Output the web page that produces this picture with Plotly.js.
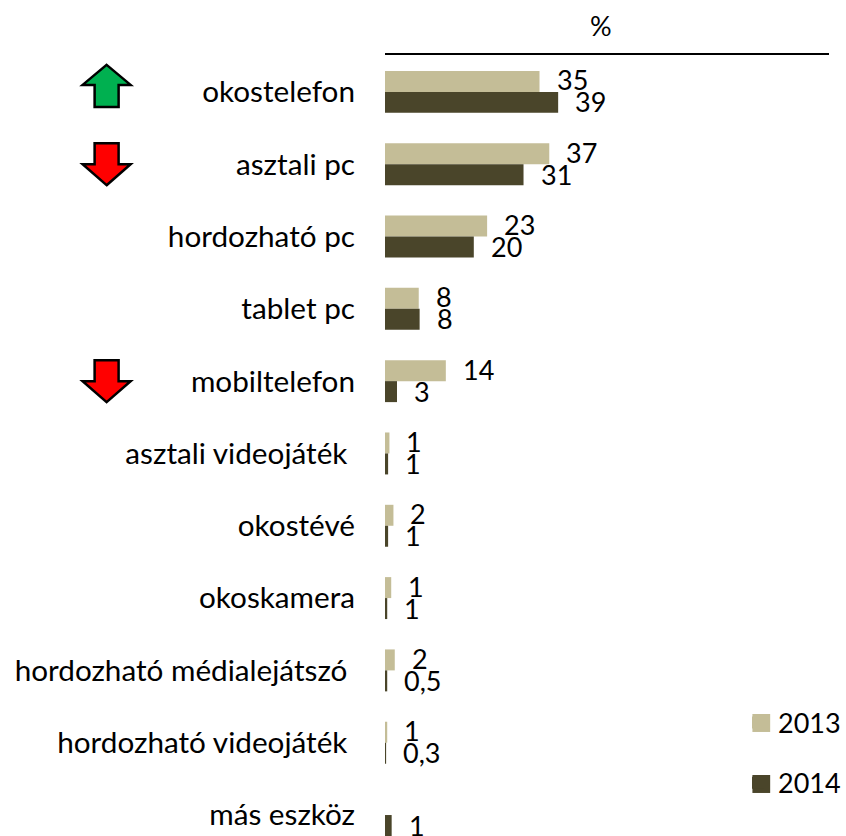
<!DOCTYPE html>
<html>
<head>
<meta charset="utf-8">
<script src="https://cdn.plot.ly/plotly-3.0.1.min.js"></script>
<style>html,body{margin:0;padding:0;background:#fff;overflow:hidden}</style>
</head>
<body>
<div id="chart" style="width:846px;height:836px"></div>
<script>
var categories = ["okostelefon","asztali pc","hordozható pc","tablet pc","mobiltelefon","asztali videojáték\u00a0","okostévé","okoskamera","hordozható médialejátszó\u00a0","hordozható videojáték\u00a0","más eszköz"];
var values2013 = [34.8,37,23,7.6,13.7,1,1.9,1.4,2.2,0.5,null];
var values2014 = [39,31.2,20,7.8,2.7,0.7,0.7,0.5,0.5,0.25,1.5];
var labels2013 = ["35","37","23","8","14","1","2","1","2","1",""];
var labels2014 = ["39","31","20","8","3","1","1","1","0,5","0,3","1"];
var arrowsUp = ["okostelefon"];
var arrowsDown = ["asztali pc","mobiltelefon"];
var COLOR_2013 = "#C4BD97";
var COLOR_2014 = "#4A452A";

var FONT = "Lato, Carlito, Calibri, sans-serif";
var TICK_SIZE = 29.7;
var LABEL_SIZE = 27;
var annotations = [];
function addLabels(vals, labels, shift) {
  labels.forEach(function (t, i) {
    if (!t) return;
    annotations.push({xref:"x", yref:"y", x:vals[i], y:categories[i], text:t, showarrow:false,
      xanchor:"left", yanchor:"middle", xshift:16, yshift:shift, borderpad:0,
      font:{family:FONT,size:LABEL_SIZE,color:"#000"}});
  });
}
addLabels(values2013, labels2013, 12);
addLabels(values2014, labels2014, -10);
annotations.push({xref:"paper", yref:"paper", x:0.487, y:1, yshift:30, text:"%", showarrow:false,
  xanchor:"center", yanchor:"middle", font:{family:FONT,size:LABEL_SIZE,color:"#000"}});

var upPath = "M0,27 L24,7 L12,7 L12,-15 L-12,-15 L-12,7 L-24,7 Z";
var downPath = "M0,-21 L24,0 L12,0 L12,21 L-12,21 L-12,0 L-24,0 Z";
function arrow(cat, path, colour) {
  return {type:"path", xref:"paper", yref:"y", xsizemode:"pixel", ysizemode:"pixel",
    xanchor:-0.627, yanchor:cat, path:path, fillcolor:colour,
    line:{color:"#000",width:2.5}};
}
function swatch(x0, x1, y0, y1, colour) {
  return {type:"rect", xref:"paper", yref:"paper", x0:x0, x1:x1, y0:y0, y1:y1, fillcolor:colour, line:{width:0}};
}
var shapes = arrowsUp.map(function (c) { return arrow(c, upPath, "#00B050"); })
  .concat(arrowsDown.map(function (c) { return arrow(c, downPath, "#FF0000"); }))
  .concat([swatch(0.8275,0.8675,0.1332,0.1562,COLOR_2013), swatch(0.8275,0.8675,0.0551,0.0781,COLOR_2014)]);

var traces = [
  {type:"bar", orientation:"h", name:"2013", y:categories, x:values2013, marker:{color:COLOR_2013}, hoverinfo:"skip", legendgroup:"a"},
  {type:"bar", orientation:"h", name:"2014", y:categories, x:values2014, marker:{color:COLOR_2014}, hoverinfo:"skip", legendgroup:"b"}
];
var layout = {
  width:846, height:836, paper_bgcolor:"#fff", plot_bgcolor:"#fff",
  margin:{l:385,r:16,t:55,b:0,pad:0},
  barmode:"group", bargap:0.42, bargroupgap:0,
  font:{family:FONT,size:LABEL_SIZE,color:"#000"},
  xaxis:{range:[0,100], side:"top", showline:true, linecolor:"#000", linewidth:2, showgrid:false, zeroline:false, ticks:"", showticklabels:false},
  yaxis:{type:"category", categoryorder:"array", categoryarray:categories, range:[10.29,-0.51],
    showgrid:false, zeroline:false, showline:false, ticks:"", ticklabelstandoff:29, tickfont:{family:FONT,size:TICK_SIZE,color:"#000"}},
  showlegend:true,
  legend:{x:0.795, y:0.176, xanchor:"left", yanchor:"top", bgcolor:"rgba(0,0,0,0)", tracegroupgap:22,
    traceorder:"grouped", itemwidth:30, font:{family:FONT,size:LABEL_SIZE,color:"#000"}},
  annotations:annotations, shapes:shapes
};
Plotly.newPlot("chart", traces, layout, {displayModeBar:false, staticPlot:true});
</script>
</body>
</html>
